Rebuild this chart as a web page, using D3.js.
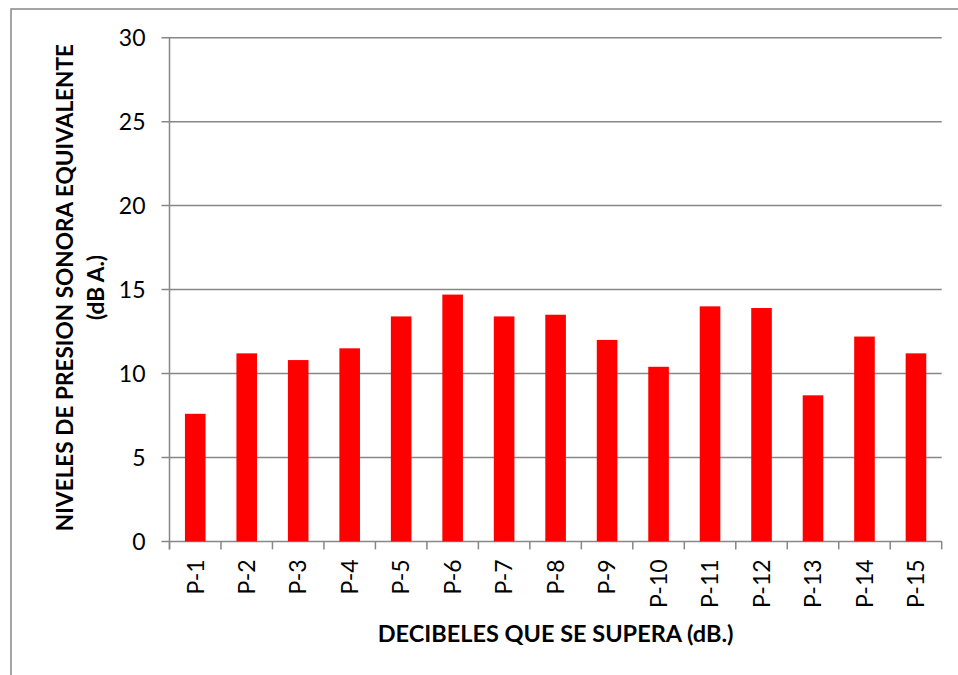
<!DOCTYPE html>
<html>
<head>
<meta charset="utf-8">
<script src="https://cdnjs.cloudflare.com/ajax/libs/d3/7.8.5/d3.min.js"></script>
<style>
    body { margin: 0; background: #fff; }
    text { font-family: Lato, "Open Sans", sans-serif; fill: #000; }
</style>
</head>
<body>
<div id="chart-area"></div>
<script>
// Data
var categories = ["P-1", "P-2", "P-3", "P-4", "P-5", "P-6", "P-7", "P-8",
                  "P-9", "P-10", "P-11", "P-12", "P-13", "P-14", "P-15"];
var values = [7.6, 11.2, 10.8, 11.5, 13.4, 14.7, 13.4, 13.5,
              12.0, 10.4, 14.0, 13.9, 8.7, 12.2, 11.2];
var yTicks = [0, 5, 10, 15, 20, 25, 30];
var yTitleLines = ["NIVELES DE PRESION SONORA EQUIVALENTE", "(dB A.)"];
var xTitle = "DECIBELES QUE SE SUPERA (dB.)";

var margin = { left: 169.5, top: 37.7, right: 16.3, bottom: 133.6 },
    width = 958 - margin.left - margin.right,
    height = 675 - margin.top - margin.bottom;

var svg = d3.select("#chart-area").append("svg")
    .attr("width", 958)
    .attr("height", 675);

// chart frame (runs off the right and bottom edge)
svg.append("rect")
    .attr("x", 11)
    .attr("y", 9)
    .attr("width", 1000)
    .attr("height", 700)
    .attr("fill", "none")
    .attr("stroke", "#878787")
    .attr("stroke-width", 1.5);

var g = svg.append("g")
    .attr("transform", "translate(" + margin.left + "," + margin.top + ")");

// Scales
var x = d3.scaleBand()
    .domain(categories)
    .range([0, width])
    .paddingInner(0.6)
    .paddingOuter(0.3);
var y = d3.scaleLinear()
    .domain([0, 30])
    .range([height, 0]);

// Gridlines
g.append("g").attr("class", "grid")
    .selectAll("line")
    .data(yTicks)
    .enter().append("line")
    .attr("x1", -8)
    .attr("x2", width)
    .attr("y1", d => y(d))
    .attr("y2", d => y(d))
    .attr("stroke", "#878787")
    .attr("stroke-width", 1.5);

// Bars
g.selectAll("rect.bar")
    .data(values)
    .enter().append("rect")
    .attr("class", "bar")
    .attr("x", (d, i) => x(categories[i]))
    .attr("width", x.bandwidth())
    .attr("y", d => y(d))
    .attr("height", d => height - y(d))
    .attr("fill", "#ff0000");

// Y axis
var yAxis = g.append("g")
    .call(d3.axisLeft(y).tickValues(yTicks).tickSize(0).tickPadding(24));
yAxis.select(".domain").remove();
yAxis.selectAll("text")
    .style("font-size", "23px")
    .attr("dy", "0.36em");
g.append("line")
    .attr("x1", 0).attr("x2", 0)
    .attr("y1", 0).attr("y2", height + 8)
    .attr("stroke", "#878787")
    .attr("stroke-width", 1.5);

// X axis: boundary ticks + labels
var bounds = d3.range(categories.length + 1).map(i => i * x.step());
g.append("g").selectAll("line")
    .data(bounds)
    .enter().append("line")
    .attr("x1", d => d).attr("x2", d => d)
    .attr("y1", height).attr("y2", height + 8)
    .attr("stroke", "#878787")
    .attr("stroke-width", 1.5);

var xAxis = g.append("g")
    .attr("transform", "translate(0," + height + ")")
    .call(d3.axisBottom(x).tickSize(0));
xAxis.select(".domain").remove();
xAxis.selectAll("text")
    .style("font-size", "23px")
    .attr("transform", "rotate(-90)")
    .attr("text-anchor", "end")
    .attr("x", -18)
    .attr("y", 0)
    .attr("dy", "0.36em");

// Axis titles
var cy = height / 2 - 2;
var yTitle = g.append("text")
    .attr("transform", "translate(-97," + cy + ") rotate(-90)")
    .attr("text-anchor", "middle")
    .style("font-size", "22.6px")
    .style("font-weight", "bold");
yTitle.selectAll("tspan")
    .data(yTitleLines)
    .enter().append("tspan")
    .attr("x", 0)
    .attr("dy", (d, i) => i === 0 ? 0 : 31)
    .text(d => d);

g.append("text")
    .attr("x", width / 2)
    .attr("y", 642 - margin.top)
    .attr("text-anchor", "middle")
    .style("font-size", "23.5px")
    .style("font-weight", "bold")
    .text(xTitle);
</script>
</body>
</html>
